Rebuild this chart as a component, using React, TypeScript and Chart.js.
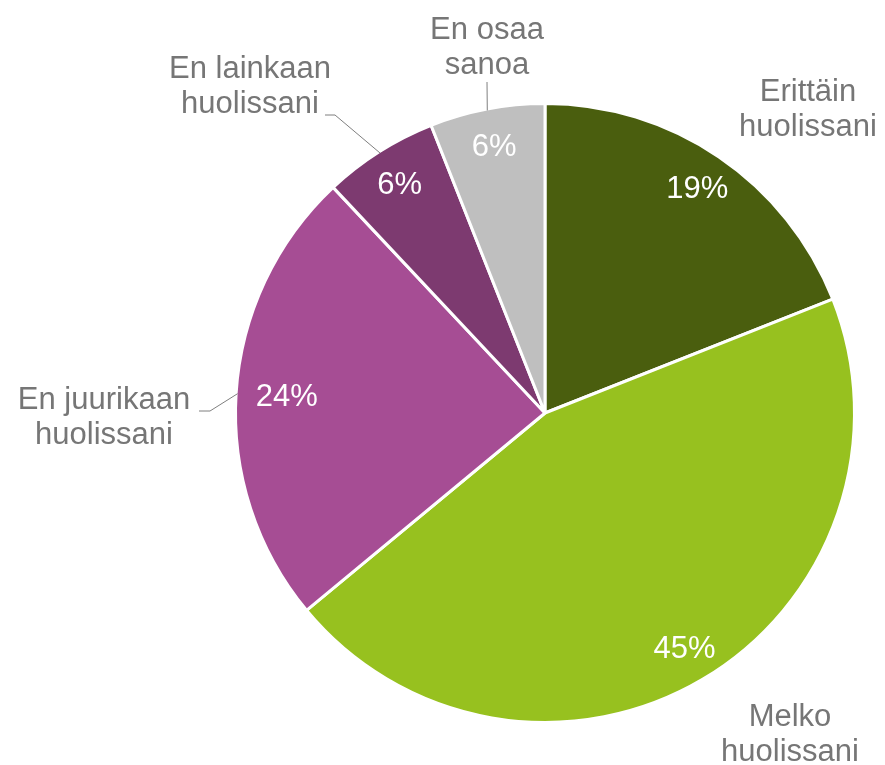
import React, { useEffect, useRef } from "react";
import { Chart, registerables } from "chart.js";

Chart.register(...registerables);

const categories: string[][] = [
  ["Erittäin", "huolissani"],
  ["Melko", "huolissani"],
  ["En juurikaan", "huolissani"],
  ["En lainkaan", "huolissani"],
  ["En osaa", "sanoa"],
];
const values: number[] = [19, 45, 24, 6, 6];
const valueLabels: string[] = ["19%", "45%", "24%", "6%", "6%"];

const colors = ["#4a5e0e", "#97c11f", "#a64d94", "#7d3a70", "#bfbfbf"];
const pctColors = ["#ffffff", "#ffffff", "#ffffff", "#ffffff", "#ffffff"];
// radial position of value labels as fraction of radius
const pctRadius = [0.88, 0.89, 0.84, 0.88, 0.88];
// category label anchor (centre x, first baseline) relative to pie centre
const labelOffsets: [number, number][] = [
  [263, -312],
  [245, 313],
  [-441, -4],
  [-295, -335],
  [-58, -374],
];
// leader lines: start points relative to pie centre, optional elbow, null = none
const leaders: ([number, number][] | null)[] = [
  null,
  null,
  [[-346, -2], [-335, -2]],
  [[-220, -298], [-210, -298]],
  [[-58, -331]],
];

const FONT = "31px 'Liberation Sans', Arial, sans-serif";
const LINE_H = 34.5;

const labelPlugin = {
  id: "pieLabels",
  afterDatasetsDraw(chart: any) {
    const ctx = chart.ctx;
    const meta = chart.getDatasetMeta(0);
    ctx.save();
    ctx.font = FONT;
    meta.data.forEach((arc: any, i: number) => {
      const { x, y, startAngle, endAngle, outerRadius } = arc.getProps(
        ["x", "y", "startAngle", "endAngle", "outerRadius"],
        true
      );
      const mid = (startAngle + endAngle) / 2;
      const R = outerRadius - 1.5;
      // value label
      const r = R * pctRadius[i];
      ctx.fillStyle = pctColors[i];
      ctx.textAlign = "center";
      ctx.textBaseline = "middle";
      ctx.fillText(valueLabels[i], x + Math.cos(mid) * r, y + Math.sin(mid) * r + 1);
      // category label
      ctx.fillStyle = "#767676";
      ctx.textBaseline = "alphabetic";
      const [dx, dy] = labelOffsets[i];
      categories[i].forEach((line, k) => {
        ctx.fillText(line, x + dx, y + dy + k * LINE_H);
      });
      // leader line
      const pts = leaders[i];
      if (pts) {
        ctx.strokeStyle = "#7f7f7f";
        ctx.lineWidth = 1;
        ctx.beginPath();
        pts.forEach(([px, py], k) => {
          if (k === 0) ctx.moveTo(x + px, y + py);
          else ctx.lineTo(x + px, y + py);
        });
        ctx.lineTo(x + Math.cos(mid) * R, y + Math.sin(mid) * R);
        ctx.stroke();
      }
    });
    ctx.restore();
  },
};

export default function App() {
  const ref = useRef<HTMLCanvasElement | null>(null);
  useEffect(() => {
    if (!ref.current) return;
    const chart = new Chart(ref.current, {
      type: "pie",
      data: {
        labels: categories.map((c) => c.join(" ")),
        datasets: [
          {
            data: values,
            backgroundColor: colors,
            borderColor: "#ffffff",
            borderWidth: 3,
          },
        ],
      },
      options: {
        responsive: false,
        animation: false,
        layout: { padding: { left: 234, top: 102, right: 29, bottom: 41 } },
        plugins: {
          legend: { display: false },
          tooltip: { enabled: false },
        },
      },
      plugins: [labelPlugin],
    });
    return () => chart.destroy();
  }, []);
  return (
    <div style={{ position: "absolute", left: 0, top: 0, width: 885, height: 765, background: "#fff" }}>
      <canvas ref={ref} width={885} height={765} />
    </div>
  );
}
